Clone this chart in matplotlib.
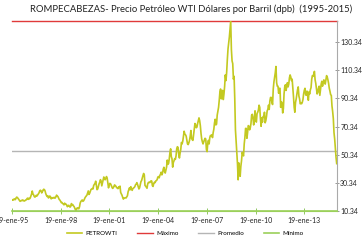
import matplotlib
matplotlib.use("Agg")
import matplotlib.pyplot as plt
import pandas as pd
import numpy as np

plt.rcParams['font.family'] = ['Lato', 'DejaVu Sans']

title = "ROMPECABEZAS- Precio Petróleo WTI Dólares por Barril (dpb)  (1995-2015)"

# Semi-monthly WTI prices (USD/barrel)
y1995 = [18.2, 18.0, 18.6, 18.4, 18.9, 18.4, 19.6, 20.2, 19.9, 19.3, 18.6, 17.9, 17.2, 17.6, 17.9, 17.7, 18.2, 17.7, 17.4, 17.6, 18.1, 18.2, 18.9, 19.5]
y1996 = [18.6, 19.4, 19.0, 19.6, 21.0, 22.4, 24.5, 22.5, 21.8, 20.6, 20.2, 20.8, 21.5, 21.0, 21.7, 22.3, 23.2, 24.6, 25.1, 24.7, 23.2, 24.0, 25.2, 25.8]
y1997 = [25.5, 24.6, 22.7, 21.5, 20.6, 21.2, 19.6, 20.0, 21.0, 20.5, 19.0, 19.5, 19.4, 19.9, 19.7, 20.0, 19.5, 20.4, 21.6, 21.0, 20.6, 19.6, 18.5, 18.1]
y1998 = [17.2, 16.3, 16.4, 15.7, 15.3, 14.7, 15.9, 15.1, 15.2, 14.6, 13.4, 14.1, 14.4, 13.8, 13.1, 13.6, 15.6, 14.5, 14.9, 14.0, 13.5, 12.3, 11.2, 10.5]
y1999 = [12.2, 12.6, 12.1, 11.9, 13.3, 16.0, 17.1, 17.6, 18.2, 17.2, 17.6, 18.4, 19.6, 20.4, 21.0, 21.6, 23.2, 24.6, 22.1, 22.9, 24.2, 25.6, 26.0, 26.3]
y2000 = [26.0, 28.5, 29.2, 30.0, 31.5, 28.3, 25.5, 26.0, 28.0, 29.7, 30.8, 32.6, 31.5, 28.2, 30.2, 32.1, 34.5, 33.0, 32.5, 33.6, 34.8, 33.6, 30.0, 26.8]
y2001 = [28.8, 30.0, 29.6, 28.6, 27.3, 26.4, 26.8, 27.8, 28.9, 28.3, 27.9, 26.9, 26.7, 26.2, 27.5, 27.0, 28.0, 23.5, 22.5, 21.5, 20.0, 18.8, 19.5, 19.6]
y2002 = [19.8, 19.6, 20.4, 21.2, 24.0, 25.3, 26.8, 25.4, 27.6, 26.0, 25.0, 26.2, 26.7, 27.0, 27.7, 29.0, 29.5, 30.5, 29.2, 27.6, 26.0, 26.8, 29.0, 31.2]
y2003 = [32.0, 33.8, 35.5, 37.0, 36.0, 28.5, 28.0, 27.2, 26.5, 29.5, 30.6, 30.8, 30.5, 31.0, 31.8, 31.6, 28.3, 27.8, 30.0, 30.7, 30.5, 31.7, 32.0, 32.6]
y2004 = [34.4, 34.8, 33.9, 35.6, 36.5, 37.9, 36.0, 37.3, 40.0, 41.4, 38.5, 37.3, 39.5, 41.6, 46.5, 43.5, 44.2, 47.5, 52.0, 54.5, 49.0, 47.5, 41.5, 44.8]
y2005 = [46.0, 47.5, 47.0, 49.5, 54.5, 56.0, 55.5, 50.5, 48.0, 51.5, 54.0, 59.0, 58.0, 60.0, 63.5, 67.0, 65.0, 64.5, 63.5, 60.5, 58.0, 57.5, 58.8, 60.5]
y2006 = [63.5, 67.5, 62.0, 61.0, 60.5, 64.5, 68.5, 72.5, 71.5, 69.5, 70.0, 72.5, 74.5, 76.5, 74.5, 71.0, 65.5, 61.5, 59.5, 58.0, 59.5, 60.8, 62.0, 61.5]
y2007 = [54.0, 52.5, 58.5, 60.5, 58.0, 62.5, 64.0, 63.5, 64.5, 62.5, 66.0, 68.5, 73.0, 75.5, 71.5, 72.0, 78.5, 81.5, 84.0, 89.0, 95.0, 97.0, 90.0, 94.0]
y2008 = [96.0, 89.5, 93.5, 99.0, 107.0, 103.0, 109.0, 118.0, 125.5, 129.5, 134.0, 139.5, 145.3, 125.0, 117.0, 115.0, 104.0, 106.0, 90.0, 68.0, 60.0, 52.5, 44.0, 32.5]
y2009 = [44.5, 37.0, 35.0, 42.0, 46.0, 52.0, 50.5, 49.5, 58.0, 62.5, 69.0, 69.0, 62.0, 66.0, 71.0, 70.5, 68.0, 69.5, 72.5, 78.5, 79.0, 76.5, 71.5, 75.5]
y2010 = [81.5, 74.5, 73.5, 79.5, 80.5, 82.0, 85.5, 84.0, 76.0, 70.5, 76.5, 73.5, 77.5, 77.0, 80.5, 73.0, 74.5, 77.5, 81.5, 82.5, 85.5, 82.5, 88.5, 91.0]
y2011 = [91.0, 87.5, 86.0, 97.0, 102.0, 105.0, 108.5, 113.0, 101.5, 99.0, 99.0, 94.0, 97.5, 97.5, 84.0, 88.0, 87.0, 80.0, 83.0, 93.5, 98.5, 100.0, 96.0, 99.0]
y2012 = [101.5, 98.5, 100.5, 105.0, 107.0, 105.5, 103.0, 104.0, 98.0, 91.5, 84.0, 80.5, 87.5, 90.0, 93.5, 96.5, 98.5, 92.0, 90.0, 86.5, 87.0, 86.5, 87.5, 89.5]
y2013 = [93.5, 96.0, 97.5, 93.0, 92.5, 95.5, 93.5, 89.0, 95.0, 93.5, 96.5, 98.0, 104.0, 106.5, 106.0, 107.5, 109.5, 103.5, 101.0, 97.0, 93.5, 94.5, 97.5, 99.0]
y2014 = [92.5, 96.5, 100.5, 102.5, 99.0, 101.5, 103.5, 101.5, 100.5, 103.5, 106.5, 105.5, 103.5, 101.0, 97.5, 95.5, 93.0, 92.5, 85.0, 81.0, 76.0, 66.0, 61.5, 55.0]
y2015 = [48.5, 44.0]

prices = (y1995 + y1996 + y1997 + y1998 + y1999 + y2000 + y2001 + y2002 + y2003 + y2004 +
          y2005 + y2006 + y2007 + y2008 + y2009 + y2010 + y2011 + y2012 + y2013 + y2014 + y2015)

maximo = 145.31
promedio = 53.0
minimo = 10.34

ytick_values = [10.34, 30.34, 50.34, 70.34, 90.34, 110.34, 130.34]
xtick_labels = ["19-ene-95", "19-ene-98", "19-ene-01", "19-ene-04", "19-ene-07", "19-ene-10", "19-ene-13"]

start = pd.Timestamp("1995-01-19")
end = pd.Timestamp("2015-01-19")
dates = pd.date_range(start, end, periods=len(prices))
xtick_dates = [pd.Timestamp(f"{1995 + 3*i}-01-19") for i in range(len(xtick_labels))]

fig = plt.figure(figsize=(3.63, 2.42), dpi=100)
ax = fig.add_axes([12/363, 1 - 211/242, (336.7 - 12)/363, (211 - 21)/242])

line_col = '#c3c921'
ax.plot(dates, prices, color=line_col, lw=1.2, label='PETROWTI', zorder=3)
ax.plot([start, end], [maximo, maximo], color='#e03a3a', lw=1.0, label='Máximo', zorder=2, clip_on=False)
ax.plot([start, end], [promedio, promedio], color='#b5b5b5', lw=1.0, label='Promedio', zorder=2)
ax.plot([start, end], [minimo, minimo], color='#9bd05a', lw=1.2, label='Mínimo', zorder=4, clip_on=False)

ax.set_xlim(start, end)
ax.set_ylim(minimo, maximo)

for s in ['top', 'left']:
    ax.spines[s].set_visible(False)
ax.spines['right'].set_color('#aaaaaa')
ax.spines['right'].set_linewidth(0.8)
ax.spines['bottom'].set_color('#9bd05a')

ax.yaxis.tick_right()
ax.set_yticks(ytick_values)
ax.set_yticklabels([f"{v:.2f}" for v in ytick_values])
ax.tick_params(axis='y', which='both', direction='inout', length=3, width=0.6, color='#888888',
               labelsize=5, pad=1, labelcolor='#222222')

ax.set_xticks(xtick_dates)
ax.set_xticklabels(xtick_labels)
ax.tick_params(axis='x', which='both', direction='inout', length=4, width=0.6, color='#7fbf4a',
               labelsize=5, pad=2, labelcolor='#222222')

fig.text(0.525, 0.96, title, ha='center', va='center', fontsize=6.8, color='#222222')

fig.legend(loc='lower center', bbox_to_anchor=(0.51, 0.0), ncol=4, fontsize=4.5, frameon=False,
           handlelength=2.5, columnspacing=3.2, handletextpad=0.5)

fig.savefig("out.png", dpi=100)
